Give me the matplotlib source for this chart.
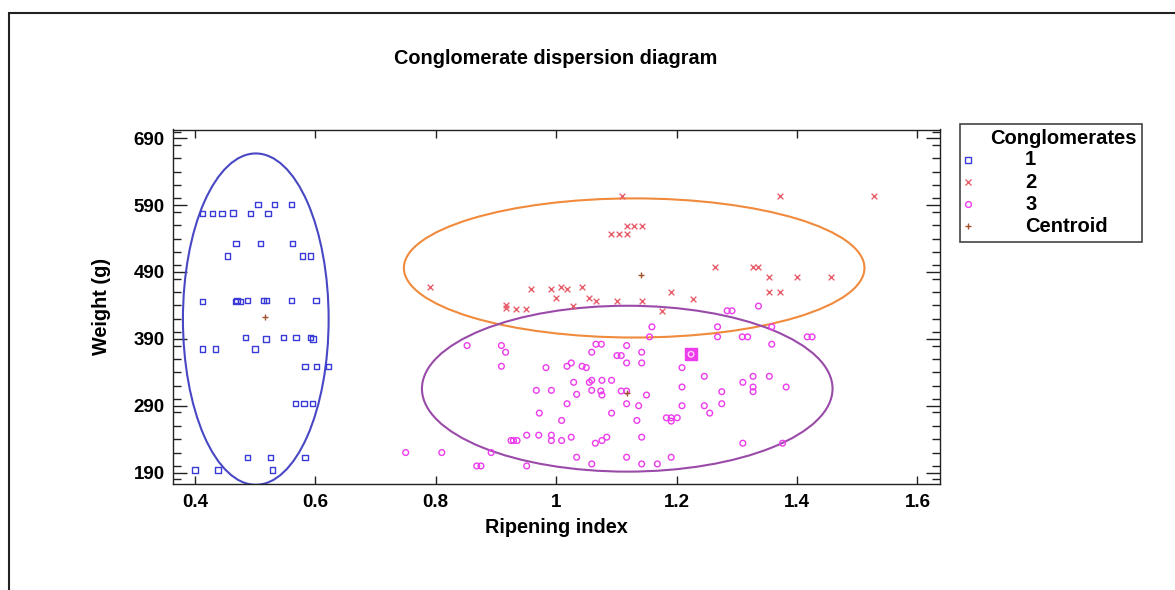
import matplotlib
matplotlib.use("Agg")
import matplotlib.pyplot as plt
from matplotlib.patches import Ellipse, Rectangle
from matplotlib.lines import Line2D
from matplotlib.ticker import MultipleLocator

plt.rcParams['font.family'] = ['Liberation Sans', 'DejaVu Sans']
plt.rcParams['font.weight'] = 'bold'

# ---------------- data ----------------
c1_x = [0.505, 0.532, 0.560,
        0.413, 0.429, 0.445, 0.463, 0.492, 0.521,
        0.468, 0.509, 0.562,
        0.454, 0.579, 0.592,
        0.413, 0.467, 0.470, 0.476, 0.487, 0.514, 0.519, 0.560, 0.601,
        0.484, 0.518, 0.547, 0.568, 0.592, 0.596,
        0.413, 0.434, 0.500,
        0.583, 0.602, 0.622,
        0.567, 0.581, 0.595,
        0.487, 0.525, 0.583,
        0.400, 0.438, 0.529]
c1_y = [591, 591, 591,
        577, 577, 577, 578, 577, 577,
        533, 533, 533,
        514, 514, 514,
        446, 446, 447, 446, 447, 447, 447, 447, 447,
        392, 390, 392, 392, 392, 390,
        375, 375, 375,
        349, 349, 349,
        293, 293, 293,
        213, 213, 213,
        194, 194, 194]

c2_x = [1.110, 1.372, 1.528,
        1.117, 1.129, 1.142,
        1.091, 1.104, 1.117,
        1.264, 1.327, 1.336,
        1.354, 1.400, 1.456,
        0.791, 1.008, 1.043,
        0.958, 0.992, 1.018,
        1.191, 1.354, 1.372,
        1.000, 1.055, 1.228,
        1.066, 1.101, 1.142,
        0.917, 1.028,
        0.917, 0.934, 0.950,
        1.175]
c2_y = [604, 604, 604,
        559, 559, 559,
        547, 547, 547,
        497, 497, 497,
        482, 482, 482,
        468, 468, 468,
        464, 464, 464,
        460, 460, 460,
        451, 451, 450,
        446, 446, 446,
        440, 439,
        436, 435, 435,
        432]

c3_x = [1.336,
        1.284, 1.292,
        1.159, 1.268, 1.358,
        1.155, 1.268, 1.309, 1.318, 1.417, 1.425,
        0.852, 0.909, 1.066, 1.075, 1.117, 1.358,
        0.916, 1.059, 1.142,
        1.101, 1.108,
        0.909, 0.983, 1.018, 1.050, 1.043, 1.209,
        1.025, 1.117, 1.142,
        1.246, 1.327, 1.354,
        1.029, 1.055, 1.310,
        1.059, 1.076, 1.092,
        1.209, 1.327, 1.382,
        0.967, 0.992, 1.059, 1.074, 1.108, 1.117, 1.327, 1.275,
        1.034, 1.076, 1.150,
        1.018, 1.117, 1.275,
        1.137, 1.209, 1.246,
        0.972, 1.092, 1.255,
        1.009, 1.134,
        1.183, 1.191, 1.201, 1.191,
        0.951, 0.971, 0.992,
        1.025, 1.084, 1.142,
        0.925, 0.929, 0.935, 0.992, 1.009, 1.076,
        1.065, 1.310, 1.376,
        0.750, 0.810, 0.892,
        1.034, 1.117, 1.191,
        1.059, 1.142, 1.168,
        0.868, 0.875, 0.951]
c3_y = [439,
        432, 432,
        408, 408, 408,
        393, 393, 393, 393, 393, 393,
        380, 380, 382, 382, 380, 382,
        370, 370, 370,
        365, 365,
        349, 347, 349, 347, 349, 347,
        354, 354, 354,
        334, 334, 334,
        325, 325, 325,
        328, 328, 328,
        318, 318, 318,
        313, 313, 313, 312, 312, 312, 311, 311,
        307, 306, 306,
        293, 293, 293,
        290, 290, 290,
        279, 279, 279,
        268, 268,
        272, 272, 272, 267,
        246, 246, 246,
        243, 243, 243,
        238, 238, 238, 238, 238, 238,
        234, 234, 234,
        220, 220, 220,
        213, 213, 213,
        203, 203, 203,
        200, 200, 200]

highlight_x = [1.224]
highlight_y = [367]

centroid_x = [0.516, 1.141, 1.117]
centroid_y = [422.5, 486, 309]

# ellipses: centre x, centre y, half-width, half-height
ell_cx = [0.501, 1.1295, 1.118]
ell_cy = [419.5, 496, 315.5]
ell_hw = [0.121, 0.3825, 0.341]
ell_hh = [247.7, 104, 124]
ell_col = ['#4848c4', '#f08a3c', '#9a4aa8']

legend_labels = ['1', '2', '3', 'Centroid']

# ---------------- figure ----------------
W, H = 1175, 590
fig = plt.figure(figsize=(W / 100, H / 100), dpi=100)
fig.patch.set_facecolor('white')

def fx(px):
    return px / W

def fy(py):
    return 1 - py / H

# outer frame (partially cut)
fig.add_artist(Rectangle((fx(9), fy(600)), fx(1200) - fx(9), fy(13) - fy(600),
                         transform=fig.transFigure, fill=False,
                         edgecolor='#222222', lw=1.5))

ax = fig.add_axes([fx(173), fy(484), fx(940) - fx(173), fy(129.5) - fy(484)])
ax.set_xlim(0.3635, 1.6375)
ax.set_ylim(173, 703)

blue = '#3a3ad8'
red = '#e8606e'
mag = '#ec3cec'
brown = '#a0522d'

ax.scatter(c1_x, c1_y, marker='s', s=15, facecolors='none', edgecolors=blue, linewidths=1.0, zorder=3)
ax.scatter(c2_x, c2_y, marker='x', s=17, c=red, linewidths=1.0, zorder=3)
ax.scatter(c3_x, c3_y, marker='o', s=17, facecolors='none', edgecolors=mag, linewidths=1.0, zorder=3)
ax.scatter(highlight_x, highlight_y, marker='s', s=75, c=mag, zorder=4)
ax.scatter(highlight_x, highlight_y, marker='o', s=16, facecolors='none', edgecolors='#ffd0ff', linewidths=1.0, zorder=5)
ax.scatter(centroid_x, centroid_y, marker='+', s=22, c=brown, linewidths=1.0, zorder=4)

for cx, cy, hw, hh, col in zip(ell_cx, ell_cy, ell_hw, ell_hh, ell_col):
    ax.add_patch(Ellipse((cx, cy), 2 * hw, 2 * hh, fill=False, edgecolor=col, lw=1.5, zorder=2))

ax.set_xticks([0.4, 0.6, 0.8, 1.0, 1.2, 1.4, 1.6])
ax.set_xticklabels(['0.4', '0.6', '0.8', '1', '1.2', '1.4', '1.6'])
ax.set_yticks([190, 290, 390, 490, 590, 690])
ax.yaxis.set_minor_locator(MultipleLocator(20))
ax.tick_params(axis='x', which='major', direction='in', length=6, width=1, top=True, bottom=True,
               labelsize=13.5, pad=7, colors='#222222', labelcolor='black')
ax.tick_params(axis='y', which='major', direction='in', length=10, width=1, left=True, right=True,
               labelsize=13.5, pad=6, colors='#222222', labelcolor='black')
ax.tick_params(axis='y', which='minor', direction='in', length=5.5, width=1, left=True, right=True,
               colors='#222222')
for lab in ax.get_xticklabels() + ax.get_yticklabels():
    lab.set_fontweight('bold')
for sp in ax.spines.values():
    sp.set_linewidth(1.0)
    sp.set_color('#222222')

ax.set_xlabel('Ripening index', fontsize=14.3, fontweight='bold', labelpad=5)
ax.set_ylabel('Weight (g)', fontsize=14.3, fontweight='bold', labelpad=16)

fig.text(fx(556), fy(58), 'Conglomerate dispersion diagram', ha='center', va='center',
         fontsize=14.3, fontweight='bold')

# legend (manual)
fig.add_artist(Rectangle((fx(960), fy(242)), fx(1142) - fx(960), fy(124) - fy(242),
                         transform=fig.transFigure, fill=False, edgecolor='#444444', lw=1.2))
fig.text(fx(990), fy(138), 'Conglomerates', ha='left', va='center', fontsize=14.5, fontweight='bold')
leg_marks = [dict(marker='s', mfc='none', mec=blue), dict(marker='x', mec=red),
             dict(marker='o', mfc='none', mec=mag), dict(marker='+', mec=brown)]
for i, (lab, mk) in enumerate(zip(legend_labels, leg_marks)):
    ypix = 160 + 22 * i
    fig.add_artist(Line2D([fx(968)], [fy(ypix)], transform=fig.transFigure, ms=4.2, mew=1.0, ls='none', **mk))
    fig.text(fx(1025), fy(ypix), lab, ha='left', va='center', fontsize=14.5, fontweight='bold')

fig.savefig('out.png', dpi=100, facecolor='white')
